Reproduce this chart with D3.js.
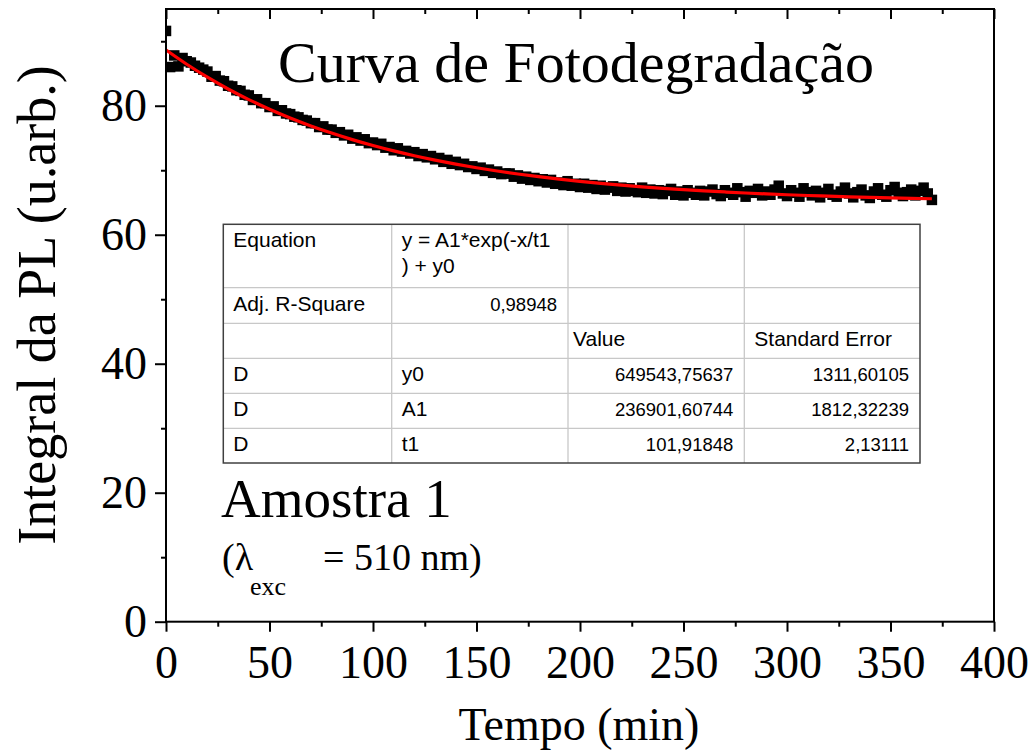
<!DOCTYPE html>
<html>
<head>
<meta charset="utf-8">
<style>
  body { margin: 0; background: #fff; }
  .serif { font-family: "Liberation Serif", "Times New Roman", serif; fill: #000; }
  .tbl { font-family: "Liberation Sans", Arial, sans-serif; font-size: 21px; fill: #000; }
  .tbl.num { font-size: 18.5px; }
  .axis path, .axis line { stroke: #000; stroke-width: 2; }
  .axis text { font-family: "Liberation Serif", "Times New Roman", serif; font-size: 46px; fill: #000; }
</style>
<script src="https://cdn.jsdelivr.net/npm/d3@7/dist/d3.min.js"></script>
</head>
<body>
<svg width="1033" height="753"></svg>
<script>
// medidas a cada 2 min (0 .. 370 min)
var tempoPasso = 2;
var integral = [
  91.6, 86.0, 87.8, 86.1, 87.4, 86.9, 86.7, 86.2, 85.9, 85.6,
  85.3, 84.5, 84.6, 83.9, 83.8, 83.1, 83.0, 82.4, 82.3, 81.7,
  81.6, 80.9, 81.0, 80.4, 80.4, 79.8, 79.9, 79.2, 79.3, 78.8,
  78.7, 78.3, 78.2, 77.8, 77.7, 77.3, 77.3, 76.7, 76.8, 76.3,
  76.3, 75.8, 75.9, 75.4, 75.5, 74.9, 75.1, 74.6, 74.8, 74.2,
  74.3, 73.9, 74.1, 73.5, 73.6, 73.1, 73.4, 72.9, 73.0, 72.6,
  72.8, 72.2, 72.5, 72.0, 72.2, 71.7, 71.9, 71.3, 71.6, 71.0,
  71.3, 70.8, 71.0, 70.5, 70.6, 70.2, 70.4, 69.9, 70.1, 69.6,
  69.8, 69.4, 69.5, 69.5, 69.0, 69.2, 68.7, 69.0, 68.5, 68.8,
  68.3, 68.6, 68.1, 68.5, 67.9, 68.1, 67.7, 68.3, 67.6, 67.9,
  67.4, 67.9, 67.3, 67.7, 67.1, 67.6, 67.0, 67.3, 67.5, 66.8,
  67.3, 66.7, 67.2, 66.8, 66.6, 67.3, 66.5, 67.0, 66.4, 66.9,
  66.3, 66.8, 67.1, 66.2, 66.7, 66.1, 66.9, 66.5, 66.2, 66.8,
  66.1, 66.7, 67.0, 66.3, 66.0, 66.9, 66.5, 66.2, 67.2, 66.6,
  65.9, 66.8, 66.5, 67.1, 66.1, 66.7, 66.2, 67.0, 67.6, 66.4,
  66.0, 66.9, 66.5, 65.9, 67.2, 66.6, 66.1, 66.8, 65.8, 66.5,
  67.1, 66.2, 65.9, 66.7, 67.3, 66.4, 65.8, 66.6, 67.0, 66.1,
  65.7, 66.7, 67.2, 66.2, 65.9, 66.9, 67.4, 66.5, 66.0, 66.6,
  67.0, 66.1, 66.8, 67.3, 66.4, 65.4
];
var tempo = integral.map(function(d, i) { return i * tempoPasso; });

// curva ajustada (vermelha)
var ajusteTempo = [0, 10, 20, 30, 40, 50, 60, 70, 80, 90, 100, 110, 120, 130, 140, 150, 160, 170, 180, 190,
                   200, 210, 220, 230, 240, 250, 260, 270, 280, 290, 300, 310, 320, 330, 340, 350, 360, 370];
var ajusteIntegral = [88.64, 86.43, 84.42, 82.60, 80.95, 79.46, 78.10, 76.87, 75.76, 74.75,
                      73.83, 73.00, 72.25, 71.57, 70.95, 70.39, 69.88, 69.42, 69.00, 68.62,
                      68.28, 67.97, 67.69, 67.43, 67.20, 66.99, 66.80, 66.63, 66.47, 66.33,
                      66.20, 66.08, 65.98, 65.88, 65.79, 65.71, 65.64, 65.58];

var xTicks = [0, 50, 100, 150, 200, 250, 300, 350, 400];
var xMinor = [25, 75, 125, 175, 225, 275, 325, 375];
var yTicks = [0, 20, 40, 60, 80];
var yMinor = [10, 30, 50, 70, 90];

var tabela = [
  ["Equation", "y = A1*exp(-x/t1|) + y0", "", ""],
  ["Adj. R-Square", "0,98948", "", ""],
  ["", "", "Value", "Standard Error"],
  ["D", "y0", "649543,75637", "1311,60105"],
  ["D", "A1", "236901,60744", "1812,32239"],
  ["D", "t1", "101,91848", "2,13111"]
];

var svg = d3.select("svg");
var pL = 166, pR = 994, pT = 9, pB = 621.7;

var x = d3.scaleLinear().domain([0, 400]).range([pL, pR]);
var y = d3.scaleLinear().domain([0, 95]).range([pB, pT]);

svg.append("clipPath").attr("id", "clip")
  .append("rect").attr("x", pL).attr("y", pT)
  .attr("width", pR - pL).attr("height", pB - pT);

// pontos
var ms = 10.5;
svg.append("g").attr("clip-path", "url(#clip)")
  .selectAll("rect")
  .data(integral)
  .enter()
  .append("rect")
  .attr("x", function(d, i) { return x(tempo[i]) - ms / 2; })
  .attr("y", function(d) { return y(d) - ms / 2; })
  .attr("width", ms)
  .attr("height", ms)
  .attr("fill", "#000");

// ajuste
var linha = d3.line()
  .x(function(d, i) { return x(ajusteTempo[i]); })
  .y(function(d) { return y(d); })
  .curve(d3.curveMonotoneX);
svg.append("path")
  .datum(ajusteIntegral)
  .attr("d", linha)
  .attr("fill", "none")
  .attr("stroke", "#ff0000")
  .attr("stroke-width", 3.2);

// tabela
var colX = [223.3, 391.7, 568, 744.3, 920];
var rowY = [224.3, 287.7, 323.3, 358.3, 393.3, 428.3, 463];
var tb = svg.append("g");
tb.append("rect").attr("x", colX[0]).attr("y", rowY[0])
  .attr("width", colX[4] - colX[0]).attr("height", rowY[6] - rowY[0])
  .attr("fill", "#fff");
colX.slice(1, 4).forEach(function(cx) {
  tb.append("line").attr("x1", cx).attr("x2", cx).attr("y1", rowY[0]).attr("y2", rowY[6])
    .attr("stroke", "#c8c8c8").attr("stroke-width", 1.3);
});
rowY.slice(1, 6).forEach(function(ry) {
  tb.append("line").attr("x1", colX[0]).attr("x2", colX[4]).attr("y1", ry).attr("y2", ry)
    .attr("stroke", "#c8c8c8").attr("stroke-width", 1.3);
});
tb.append("rect").attr("x", colX[0]).attr("y", rowY[0])
  .attr("width", colX[4] - colX[0]).attr("height", rowY[6] - rowY[0])
  .attr("fill", "none").attr("stroke", "#404040").attr("stroke-width", 1.5);

tabela.forEach(function(row, r) {
  row.forEach(function(cell, c) {
    if (!cell) return;
    var numero = /^[0-9,]+$/.test(cell);
    var tx = numero ? colX[c + 1] - 11 : colX[c] + (cell === "Value" ? 5 : 10);
    var t = tb.append("text").attr("class", numero ? "tbl num" : "tbl")
      .attr("y", rowY[r] + 23)
      .attr("text-anchor", numero ? "end" : "start");
    cell.split("|").forEach(function(p, k) {
      t.append("tspan").attr("x", tx).attr("dy", k === 0 ? 0 : 26).text(p);
    });
  });
});

// eixos
svg.append("g").attr("class", "axis")
  .attr("transform", "translate(0," + pB + ")")
  .call(d3.axisBottom(x).tickValues(xTicks).tickSize(10).tickPadding(14).tickFormat(d3.format("d")))
  .call(function(g) { g.select(".domain").remove(); g.selectAll("text").attr("dy", "0.71em"); });
svg.append("g").attr("class", "axis")
  .attr("transform", "translate(0," + pB + ")")
  .call(d3.axisBottom(x).tickValues(xMinor).tickSize(5).tickFormat(""))
  .call(function(g) { g.select(".domain").remove(); });

svg.append("g").attr("class", "axis")
  .attr("transform", "translate(" + pL + ",0)")
  .call(d3.axisLeft(y).tickValues(yTicks).tickSize(11).tickPadding(8).tickFormat(d3.format("d")))
  .call(function(g) { g.select(".domain").remove(); });
svg.append("g").attr("class", "axis")
  .attr("transform", "translate(" + pL + ",0)")
  .call(d3.axisLeft(y).tickValues(yMinor).tickSize(5).tickFormat(""))
  .call(function(g) { g.select(".domain").remove(); });

// eixo superior (marcas para dentro)
svg.append("g").attr("class", "axis")
  .attr("transform", "translate(0," + pT + ")")
  .call(d3.axisBottom(x).tickValues(xTicks).tickSize(10).tickFormat(""))
  .call(function(g) { g.select(".domain").remove(); });
svg.append("g").attr("class", "axis")
  .attr("transform", "translate(0," + pT + ")")
  .call(d3.axisBottom(x).tickValues(xMinor).tickSize(5).tickFormat(""))
  .call(function(g) { g.select(".domain").remove(); });

svg.append("rect").attr("x", pL).attr("y", pT)
  .attr("width", pR - pL).attr("height", pB - pT)
  .attr("fill", "none").attr("stroke", "#000").attr("stroke-width", 2);

// textos
svg.append("text").attr("class", "serif")
  .attr("x", 278).attr("y", 82).style("font-size", "58px")
  .text("Curva de Fotodegradação");

svg.append("text").attr("class", "serif")
  .attr("x", 579).attr("y", 740).attr("text-anchor", "middle").style("font-size", "46px")
  .text("Tempo (min)");

svg.append("text").attr("class", "serif")
  .attr("transform", "translate(55,305) rotate(-90)")
  .attr("text-anchor", "middle").style("font-size", "54px")
  .text("Integral da PL (u.arb.)");

svg.append("text").attr("class", "serif")
  .attr("x", 221).attr("y", 517).style("font-size", "55px")
  .text("Amostra 1");

var lam = svg.append("text").attr("class", "serif").attr("y", 570).style("font-size", "38px");
lam.append("tspan").attr("x", 222).text("(λ");
lam.append("tspan").attr("x", 250).attr("dy", 25).style("font-size", "26px").text("exc");
lam.append("tspan").attr("x", 323).attr("dy", -25).text("= 510 nm)");
</script>
</body>
</html>
